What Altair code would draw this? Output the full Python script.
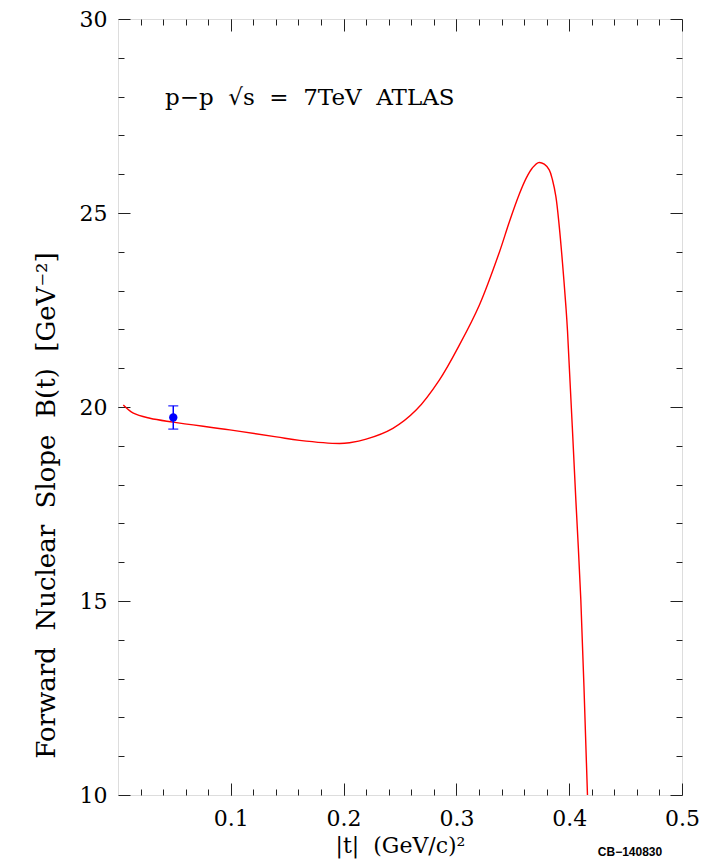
import altair as alt
import pandas as pd

# Curve: forward nuclear slope B(t) vs |t|
t_curve = [0.0047, 0.0136, 0.0283, 0.049, 0.0991, 0.1404, 0.161, 0.1965, 0.2053,
           0.220, 0.2437, 0.2643, 0.285, 0.3027, 0.3204, 0.3381, 0.3469, 0.3558,
           0.3619, 0.3673, 0.3728, 0.3779, 0.3823, 0.3852, 0.3882, 0.3912, 0.3941,
           0.3971, 0.3985, 0.4059, 0.4103, 0.4162]
b_curve = [20.05, 19.84, 19.71, 19.61, 19.41, 19.23, 19.14, 19.06, 19.08,
           19.17, 19.45, 19.92, 20.70, 21.60, 22.63, 23.99, 24.77, 25.49,
           25.90, 26.16, 26.30, 26.26, 26.11, 25.85, 25.42, 24.65, 23.70,
           22.58, 21.96, 17.6, 15.03, 10.0]

# ATLAS data point
t_point = [0.049]
b_point = [19.73]
b_err = [0.30]

NB = "\u00a0"
# annotation
note_t = [0.0416]
note_b = [27.96]
note_text = ["p\u2212p" + NB * 2 + "\u221As" + NB * 2 + "=" + NB * 2 + "7TeV" + NB * 2 + "ATLAS"]

x_title = "|t|" + NB * 2 + "(GeV/c)\u00b2"
y_title = (NB * 2).join(["Forward", "Nuclear", "Slope", "B(t)", "[GeV\u207b\u00b2]"])

x_major = [0.1, 0.2, 0.3, 0.4, 0.5]
x_minor = [round(0.02 * i, 2) for i in range(1, 25)]
y_major = [10, 15, 20, 25, 30]
y_minor = list(range(11, 30))

curve = pd.DataFrame({"t": t_curve, "B": b_curve})
pt = pd.DataFrame({"t": t_point, "B": b_point,
                   "lo": [b - e for b, e in zip(b_point, b_err)],
                   "hi": [b + e for b, e in zip(b_point, b_err)]})
note = pd.DataFrame({"t": note_t, "B": note_b, "label": note_text})

FONT = "DejaVu Serif"
xs = alt.Scale(domain=[0, 0.5], nice=False, zero=False)
ys = alt.Scale(domain=[10, 30], nice=False, zero=False)
TICK = "#222222"


def xaxis(orient, major, labels=False, title=None):
    size = 12 if major else 6
    kw = dict(orient=orient, values=x_major if major else x_minor, tickSize=size,
              offset=-size, domain=False, grid=False, tickColor=TICK, tickWidth=1,
              labels=labels, title=title)
    if labels:
        kw.update(labelFont=FONT, labelFontSize=22, labelColor="black", labelPadding=13,
                  labelFlush=False, labelFontWeight="normal")
    if title:
        kw.update(titleFont=FONT, titleFontSize=22, titleColor="black", titleFontWeight="normal",
                  titlePadding=6)
    return alt.Axis(**kw)


def yaxis(orient, major, labels=False, title=None):
    size = 12 if major else 6
    kw = dict(orient=orient, values=y_major if major else y_minor, tickSize=size,
              offset=-size, domain=False, grid=False, tickColor=TICK, tickWidth=1,
              labels=labels, title=title)
    if labels:
        kw.update(labelFont=FONT, labelFontSize=22, labelColor="black", labelPadding=11,
                  labelFlush=False, labelFontWeight="normal")
    if title:
        kw.update(titleFont=FONT, titleFontSize=26, titleColor="black", titleFontWeight="normal",
                  titleX=-84, titleY=486, titleAnchor="middle", titleAngle=270, titleBaseline="middle")
    return alt.Axis(**kw)


line = alt.Chart(curve).mark_line(color="#ff0000", strokeWidth=1.4, clip=True, interpolate="catmull-rom").encode(
    x=alt.X("t:Q", scale=xs, axis=xaxis("bottom", True, labels=True, title=x_title)),
    y=alt.Y("B:Q", scale=ys, axis=yaxis("left", True, labels=True, title=y_title)),
)

err = alt.Chart(pt).mark_errorbar(ticks=alt.MarkConfig(size=10, color="#0000ff", strokeWidth=1.5),
                                  color="#0000ff", thickness=1.5).encode(
    x=alt.X("t:Q", scale=xs, axis=xaxis("bottom", False)),
    y=alt.Y("lo:Q", scale=ys, axis=yaxis("left", False), title=None),
    y2="hi:Q",
)

dot = alt.Chart(pt).mark_point(filled=True, color="#0000ff", size=70, opacity=1, shape="circle").encode(
    x=alt.X("t:Q", scale=xs, axis=xaxis("top", True)),
    y=alt.Y("B:Q", scale=ys, axis=yaxis("right", True)),
)

txt = alt.Chart(note).mark_text(font=FONT, fontSize=23, align="left", baseline="middle", color="black").encode(
    x=alt.X("t:Q", scale=xs, axis=xaxis("top", False)),
    y=alt.Y("B:Q", scale=ys, axis=yaxis("right", False)),
    text="label:N",
)

cb = alt.Chart(pd.DataFrame({"label": ["CB\u2212140830"]})).mark_text(
    font="Liberation Sans", fontSize=12, fontWeight="bold", align="center", baseline="middle", color="black"
).encode(x=alt.value(512), y=alt.value(833), text="label:N")

chart = alt.layer(line, err, dot, txt, cb).resolve_axis(x="independent", y="independent").properties(
    width=564, height=776,
    autosize=alt.AutoSizeParams(type="none"),
    padding={"left": 118, "top": 19, "right": 21, "bottom": 72},
).configure_view(stroke="black", strokeWidth=1.5).configure(background="white")

chart.save("out.html", embed_options={"renderer": "svg", "actions": False})
